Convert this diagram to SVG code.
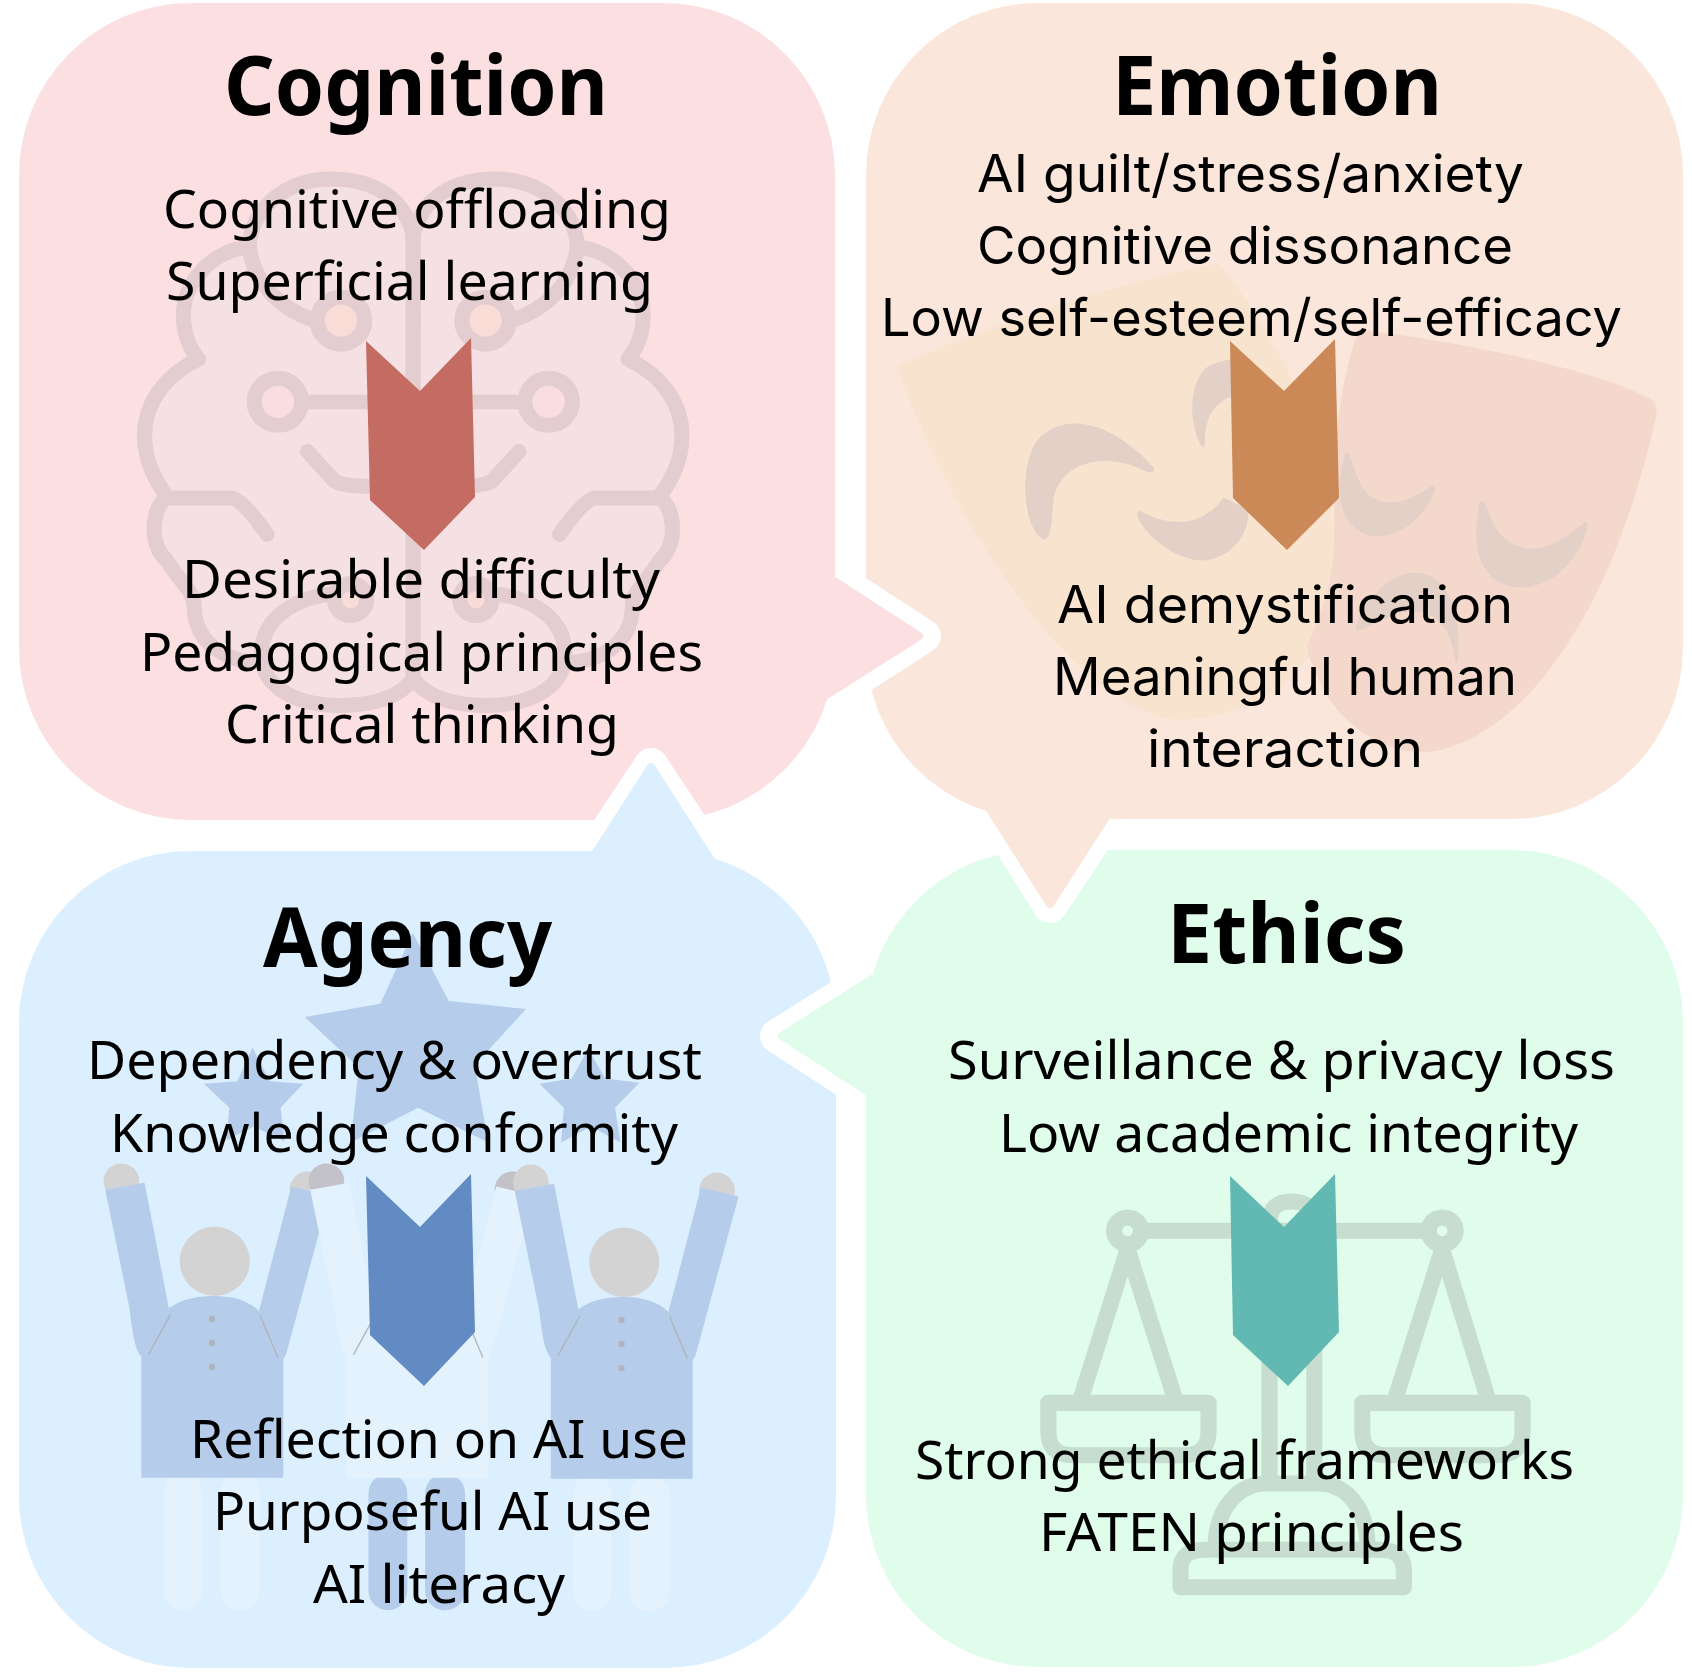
<svg xmlns="http://www.w3.org/2000/svg" xmlns:xlink="http://www.w3.org/1999/xlink" width="1692" height="1676" viewBox="0 0 1692 1676">
<style>
text{fill:#000;text-anchor:start}
.t{font:700 82px "Noto Sans","Open Sans",sans-serif}
.b{font:400 53px "Noto Sans","Open Sans",sans-serif}
.e{font:400 52px "Inter","Noto Sans",sans-serif}
.bs{fill:none;stroke:#e4cdd0;stroke-width:28;stroke-linecap:round;stroke-linejoin:round}
.sc{fill:none;stroke:#c6ddd0;stroke-width:30;stroke-linejoin:round}
.m{fill:#e3d0c6}
.halo{fill:none;stroke:#fff;stroke-width:34;stroke-linejoin:round}
.blue{fill:#b5cdea}.pale{fill:#e3f2fd}.head{fill:#d3d3d3}.dot{fill:#b0b5bb}.col{stroke:#aeb4ba;stroke-width:2.5;fill:none}
</style>
<defs>
<g id="brainHalf">
<path d="M766 1290V440C750 370 690 335 615 335C530 335 465 390 462 462C390 470 340 530 340 590C340 620 350 650 368 672C300 705 268 760 268 815C268 860 285 895 310 930C280 950 275 1020 310 1050C330 1085 360 1105 360 1135C360 1190 400 1235 480 1240C500 1300 570 1335 650 1320C710 1315 750 1290 766 1270Z" style="fill:#f5e1e3;stroke:none"/>
<path class="bs" d="M766 1270V440C750 370 690 335 615 335C530 335 465 390 462 462C470 530 520 580 585 600M462 462C390 470 340 530 340 590C340 620 350 650 368 672C300 705 268 760 268 815C268 860 285 895 310 930C280 950 275 1020 310 1050C330 1085 360 1105 360 1135C360 1190 400 1235 480 1240"/>
<path class="bs" d="M766 1270C740 1305 690 1320 630 1320C540 1320 480 1280 485 1215C490 1150 560 1110 640 1110"/>
<circle class="bs" cx="632" cy="600" r="44" style="fill:#f9dcd6"/>
<circle class="bs" cx="515" cy="752" r="44" style="fill:#f9dde0"/>
<circle class="bs" cx="650" cy="1122" r="30" style="fill:#f9dcd6"/>
<path class="bs" d="M560 752H766M570 845L620 900Q635 910 690 910M310 932H430Q450 935 495 1000"/>
</g>
<g id="torso">
<path d="M262 1197V970C250 960 245 920 240 880L195 658L268 645L313 880C340 860 370 857 398 857C430 857 460 865 480 885L540 652L610 669L532 960C530 968 528 972 525 975V1197Z"/>
</g>
<g id="legs"><rect x="303" y="1190" width="72" height="255" rx="36"/><rect x="408" y="1190" width="74" height="255" rx="36"/></g>
<g id="hands"><circle cx="225" cy="642" r="33"/><circle cx="570" cy="657" r="33"/></g>
<g id="deco"><path class="col" d="M316 892L275 967M482 893L515 972"/></g>
<g id="dots" class="dot"><circle cx="393" cy="900" r="6"/><circle cx="393" cy="945" r="6"/><circle cx="393" cy="990" r="6"/></g>
</defs>

<g id="node-cognition">
<rect x="19" y="3" width="816" height="817" rx="172" fill="#fbdfe1"/>
<g transform="scale(.5395,.5344)">
<use xlink:href="#brainHalf"/>
<use xlink:href="#brainHalf" transform="translate(1532,0) scale(-1,1)"/>
</g>
<polygon points="366,341 420,391 471,338 475,497 424,550 370,500" fill="#c56c62"/>
<text class="t" x="224" y="115" textLength="384" lengthAdjust="spacingAndGlyphs">Cognition</text>
<text class="b" x="163" y="228" textLength="508" lengthAdjust="spacingAndGlyphs">Cognitive offloading</text>
<text class="b" x="166" y="300" textLength="487" lengthAdjust="spacingAndGlyphs">Superficial learning</text>
<text class="b" x="182" y="598" textLength="478" lengthAdjust="spacingAndGlyphs">Desirable difficulty</text>
<text class="b" x="140" y="671" textLength="563" lengthAdjust="spacingAndGlyphs">Pedagogical principles</text>
<text class="b" x="225" y="743" textLength="394" lengthAdjust="spacingAndGlyphs">Critical thinking</text>
</g>

<g id="node-emotion">
<rect x="866" y="3" width="817" height="816" rx="172" fill="#fae6da"/>
<g transform="translate(846,0) scale(.5395,.5995)">
<path d="M95 610C250 550 500 470 690 440C730 480 790 560 830 640C880 740 905 830 905 930C905 1040 860 1120 780 1160C720 1190 660 1200 610 1200C520 1190 430 1120 350 1030C250 920 150 760 95 610Z" fill="#f8e3cf"/>
<path d="M950 550C1150 570 1400 620 1490 665C1503 672 1505 685 1500 700C1470 820 1420 960 1340 1070C1270 1170 1170 1250 1070 1255C990 1255 900 1200 870 1120C860 1100 855 1090 855 1075C885 1020 905 960 905 900C905 800 900 680 950 550Z" fill="#f4d8cc"/>
<path class="m" d="M365 900C330 880 320 790 350 740C390 690 480 690 570 780C575 790 560 790 545 782C480 755 400 770 385 830C380 880 380 900 365 900Z"/>
<path class="m" d="M660 745C640 720 630 650 665 615C690 600 715 600 715 600L720 660C680 670 665 700 665 740C665 745 662 747 660 745Z"/>
<path class="m" d="M545 852C600 880 660 880 700 830L745 850C750 900 700 935 660 935C610 935 550 890 540 860C540 852 542 851 545 852Z"/>
<path class="m" d="M930 755C945 770 945 840 1010 838C1040 838 1070 820 1090 808C1100 815 1060 895 980 895C940 890 910 860 915 800C920 770 925 750 930 755Z"/>
<path class="m" d="M1180 835C1195 850 1200 915 1275 915C1310 915 1350 885 1372 870C1385 880 1340 980 1250 980C1190 980 1160 930 1170 870C1172 850 1172 835 1180 835Z"/>
<path class="m" d="M1130 1105C1125 1070 1110 1020 1050 1020C1010 1020 970 1050 945 1052C945 1020 1000 955 1055 955C1110 955 1140 1010 1135 1090C1135 1105 1132 1108 1130 1105Z"/>
</g>
<polygon points="1230,341 1284,391 1335,339 1339,498 1287,550 1233,498" fill="#cb8958"/>
<text class="t" x="1112" y="115" textLength="330" lengthAdjust="spacingAndGlyphs">Emotion</text>
<text class="e" x="977" y="192" textLength="547" lengthAdjust="spacingAndGlyphs">AI guilt/stress/anxiety</text>
<text class="e" x="977" y="264" textLength="536" lengthAdjust="spacingAndGlyphs">Cognitive dissonance</text>
<text class="e" x="881" y="336" textLength="741" lengthAdjust="spacingAndGlyphs">Low self-esteem/self-efficacy</text>
<text class="e" x="1057" y="623" textLength="456" lengthAdjust="spacingAndGlyphs">AI demystification</text>
<text class="e" x="1053" y="695" textLength="464" lengthAdjust="spacingAndGlyphs">Meaningful human</text>
<text class="e" x="1147" y="767" textLength="276" lengthAdjust="spacingAndGlyphs">interaction</text>
</g>

<g id="node-agency">
<rect x="19" y="851" width="817" height="817" rx="172" fill="#dceffe"/>
<g transform="translate(0,838) scale(.5395,.5344)">
<polygon class="blue" points="765,178 832,305 975,320 880,425 905,570 775,505 650,570 665,430 565,335 705,310"/>
<polygon class="blue" points="468,392 500,455 562,460 520,505 528,568 470,540 420,565 425,505 378,460 440,455"/>
<polygon class="blue" points="1090,395 1122,450 1185,458 1140,505 1150,570 1095,540 1040,570 1045,505 1000,460 1060,450"/>
<g class="person">
<use xlink:href="#legs" class="pale"/>
<use xlink:href="#hands" class="head"/>
<use xlink:href="#torso" class="blue"/>
<circle class="head" cx="398" cy="792" r="65"/>
<use xlink:href="#deco"/><use xlink:href="#dots"/>
</g>
<g transform="translate(380,0)">
<use xlink:href="#legs" class="blue"/>
<use xlink:href="#hands" style="fill:#c3c2c8"/>
<use xlink:href="#torso" class="pale"/>
<use xlink:href="#deco"/>
</g>
<g transform="translate(759,2)">
<use xlink:href="#legs" class="pale"/>
<use xlink:href="#hands" class="head"/>
<use xlink:href="#torso" class="blue"/>
<circle class="head" cx="398" cy="792" r="65"/>
<use xlink:href="#deco"/><use xlink:href="#dots"/>
</g>
</g>
<polygon points="366,1176 420,1227 471,1174 475,1332 424,1386 370,1335" fill="#628bc4"/>
<text class="t" x="263" y="967" textLength="289" lengthAdjust="spacingAndGlyphs">Agency</text>
<text class="b" x="87" y="1079" textLength="615" lengthAdjust="spacingAndGlyphs">Dependency &amp; overtrust</text>
<text class="b" x="110" y="1152" textLength="568" lengthAdjust="spacingAndGlyphs">Knowledge conformity</text>
<text class="b" x="190" y="1458" textLength="498" lengthAdjust="spacingAndGlyphs">Reflection on AI use</text>
<text class="b" x="213" y="1530" textLength="439" lengthAdjust="spacingAndGlyphs">Purposeful AI use</text>
<text class="b" x="313" y="1603" textLength="252" lengthAdjust="spacingAndGlyphs">AI literacy</text>
</g>

<g id="node-ethics">
<rect x="866" y="850" width="817" height="817" rx="172" fill="#e0fdeb"/>
<g transform="translate(846,838) scale(.5395,.5344)">
<path class="sc" d="M785 1210V720Q785 680 825 680Q868 680 868 720V1210"/>
<path class="sc" d="M547 735H1080"/>
<circle class="sc" cx="522" cy="735" r="25"/><circle class="sc" cx="1105" cy="735" r="25"/>
<path class="sc" d="M522 770L435 1050M522 770L610 1050M1105 770L1018 1050M1105 770L1190 1050"/>
<path class="sc" d="M375 1057H672V1110Q672 1155 625 1155H420Q375 1155 375 1110Z"/>
<path class="sc" d="M957 1057H1254V1110Q1254 1155 1207 1155H1002Q957 1155 957 1110Z"/>
<path class="sc" d="M685 1330C685 1250 730 1208 780 1208H875C925 1208 967 1250 967 1330"/>
<path class="sc" d="M620 1402H1034V1370Q1034 1332 990 1332H665Q620 1332 620 1370Z"/>
</g>
<polygon points="1230,1176 1284,1227 1335,1174 1339,1332 1288,1386 1233,1335" fill="#62b8b3"/>
<text class="t" x="1167" y="963" textLength="239" lengthAdjust="spacingAndGlyphs">Ethics</text>
<text class="b" x="948" y="1079" textLength="667" lengthAdjust="spacingAndGlyphs">Surveillance &amp; privacy loss</text>
<text class="b" x="999" y="1152" textLength="579" lengthAdjust="spacingAndGlyphs">Low academic integrity</text>
<text class="b" x="915" y="1479" textLength="659" lengthAdjust="spacingAndGlyphs">Strong ethical frameworks</text>
<text class="b" x="1039" y="1551" textLength="425" lengthAdjust="spacingAndGlyphs">FATEN principles</text>
</g>

<g id="connectors">
<path class="halo" d="M836 579L924 636L831 696"/>
<path d="M816 569L919 636L812 704Z" fill="#fbdfe1" stroke="#fbdfe1" stroke-width="8" stroke-linejoin="round"/>
<path class="halo" d="M991 812L1050 906L1108 819"/>
<path d="M984 800L1050 904L1115 803Z" fill="#fae6da" stroke="#fae6da" stroke-width="8" stroke-linejoin="round"/>
<path class="halo" d="M873 976L777 1036L866 1094"/>
<path d="M888 969L782 1036L882 1101Z" fill="#e0fdeb" stroke="#e0fdeb" stroke-width="8" stroke-linejoin="round"/>
<path class="halo" d="M594 851L651 765L712 857"/>
<path d="M586 868L651 767L719 873Z" fill="#dceffe" stroke="#dceffe" stroke-width="8" stroke-linejoin="round"/>
</g>
</svg>
